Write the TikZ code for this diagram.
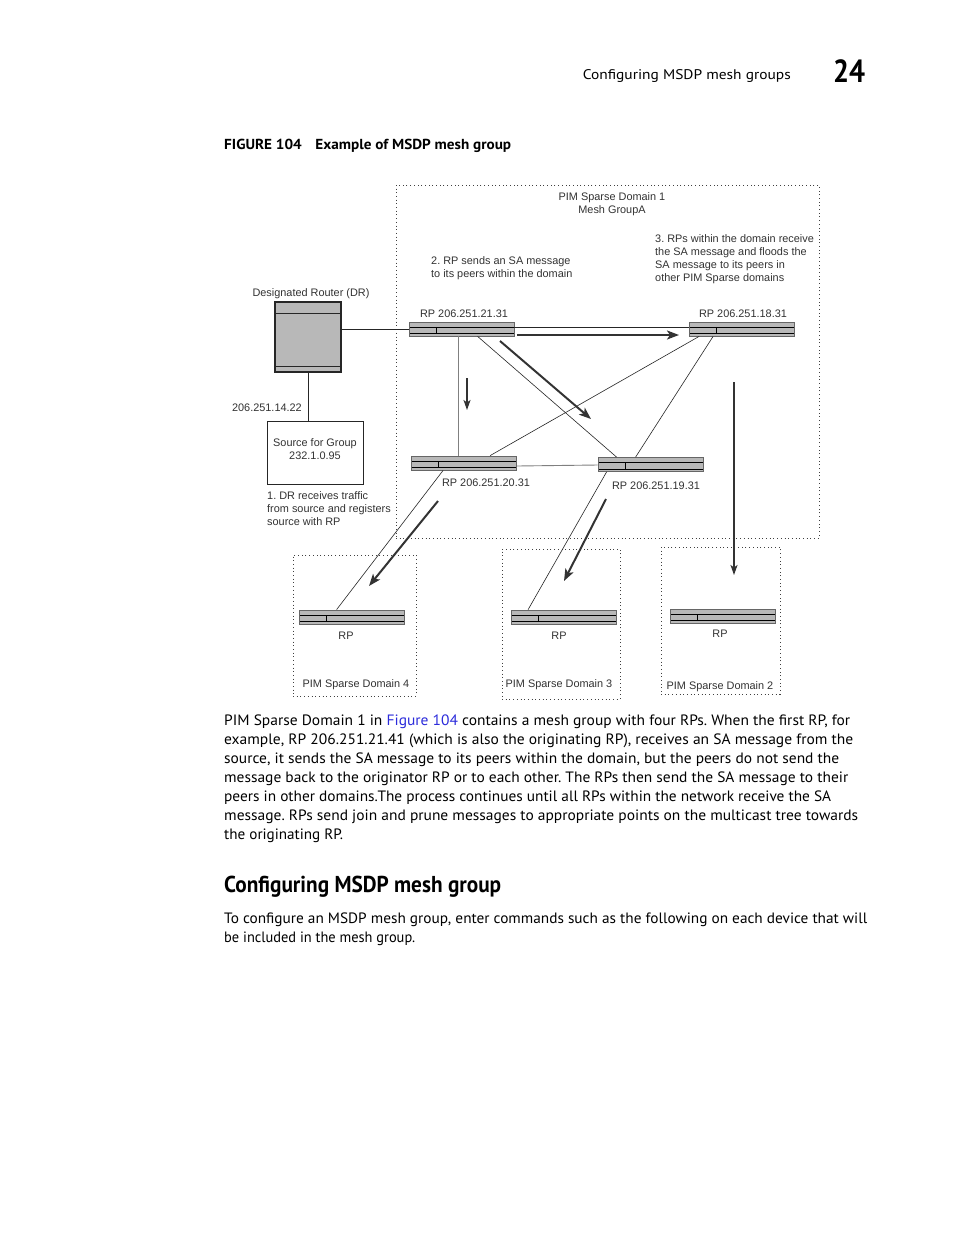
\documentclass[tikz,border=0pt]{standalone}
\usepackage{fontspec}
\setmainfont{Liberation Sans}
\newfontfamily\bodyfont{PT Sans}
\usepackage{graphicx}
\usetikzlibrary{calc,arrows.meta}
\definecolor{rgray}{HTML}{B8B8B8}
\definecolor{dtext}{HTML}{333333}
\definecolor{lnk}{HTML}{2B2BDB}
\newcommand{\fitw}[2]{\resizebox{#1}{\height}{#2}}
\frenchspacing
\tikzset{
  lbl/.style={font=\frenchspacing\fontsize{10.9}{13}\selectfont, text=dtext, inner sep=0, yshift=-1.5pt},
  bodyline/.style={anchor=base west, inner sep=0, font=\frenchspacing\bodyfont\fontsize{15}{19}\selectfont, text=black},
  dombox/.style={draw=black!75, dash pattern=on 0.9pt off 2.8pt, line width=0.7pt, inner sep=0},
  router/.style={draw=black!60, fill=rgray, line width=0.8pt, minimum width=105pt, minimum height=14pt, inner sep=0,
    path picture={\draw[black, line width=1pt]
      ([yshift=-5pt]path picture bounding box.north west) -- ([yshift=-5pt]path picture bounding box.north east)
      ([yshift=2.2pt]path picture bounding box.south west) -- ([yshift=2.2pt]path picture bounding box.south east)
      ([xshift=27pt,yshift=-5pt]path picture bounding box.north west) -- ([xshift=27pt,yshift=2.2pt]path picture bounding box.south west);}},
  drbox/.style={draw=black!85, fill=rgray, line width=1.2pt, minimum width=66pt, minimum height=70pt, inner sep=0,
    path picture={\draw[black!85, line width=1pt]
      ([yshift=-11pt]path picture bounding box.north west) -- ([yshift=-11pt]path picture bounding box.north east)
      ([yshift=5.5pt]path picture bounding box.south west) -- ([yshift=5.5pt]path picture bounding box.south east);}},
  srcbox/.style={draw=black!85, line width=0.9pt, minimum width=96pt, minimum height=63pt, inner sep=0},
  link/.style={draw=black!85, line width=0.6pt},
  glink/.style={draw=black!50, line width=0.9pt},
  flow/.style={draw=black!80, line width=2pt, -{Stealth[length=12pt,width=9pt,inset=3pt]}},
  sflow/.style={draw=black!80, line width=1.5pt, -{Stealth[length=10pt,width=7pt,inset=2.5pt]}},
}
\begin{document}
\begin{tikzpicture}[x=1pt,y=-1pt]
\useasboundingbox (0,0) rectangle (954,1235);
\fill[white] (0,0) rectangle (954,1235);

% page header
\node[anchor=base east, inner sep=0, font=\bodyfont\fontsize{14}{16}\selectfont] (hdr) at (791,79) {\fitw{208pt}{Configuring MSDP mesh groups}};
\node[anchor=base west, inner sep=0, font=\bodyfont\bfseries\fontsize{32}{34}\selectfont] (chap) at (833,82) {\fitw{32pt}{24}};
\node[anchor=base west, inner sep=0, font=\bodyfont\bfseries\fontsize{14.5}{17}\selectfont] (cap) at (224,149) {\fitw{287pt}{FIGURE 104\hspace{0.9em}Example of MSDP mesh group}};

% domain boxes
\node[dombox, minimum width=423pt, minimum height=353pt] (d1) at (607.5,361.5) {};
\node[dombox, minimum width=123pt, minimum height=141pt] (d4) at (354.5,625.5) {};
\node[dombox, minimum width=118pt, minimum height=150pt] (d3) at (561,624) {};
\node[dombox, minimum width=119pt, minimum height=147pt] (d2) at (720.5,620.5) {};

% devices
\node[drbox] (dr) at (308,337) {};
\node[srcbox] (src) at (315,452.5) {};
\node[router] (rp21) at (461.5,329) {};
\node[router] (rp18) at (742,329) {};
\node[router] (rp20) at (464,463) {};
\node[router] (rp19) at (650.5,464.5) {};
\node[router] (rp4) at (351.5,617) {};
\node[router] (rp3) at (563.5,617) {};
\node[router] (rp2) at (722.5,616) {};

% connectors
\draw[link] (dr.east |- rp21.west) -- (rp21.west);
\draw[link] (dr.south) -- (dr.south |- src.north);
\draw[link] ($(rp21.east)+(0,-2)$) -- ($(rp18.west)+(0,-2)$);
\draw[glink] ($(rp21.south west)+(50,0)$) -- ($(rp20.north west)+(47.5,0)$);
\draw[link] ($(rp21.south west)+(69,0)$) -- ($(rp19.north west)+(19,0)$);
\draw[link] ($(rp18.south west)+(10,0)$) -- ($(rp20.north west)+(79,0)$);
\draw[link] ($(rp18.south west)+(24,0)$) -- ($(rp19.north west)+(38,0)$);
\draw[link, line width=0.8pt] ($(rp18.south west)+(30.5,0)$) -- ($(rp18.south west)+(30.5,0)$ |- rp2.north);
\draw[glink] ($(rp20.east)+(0,3)$) -- ($(rp19.west)+(0,0.5)$);
\draw[link] ($(rp20.south west)+(32,0)$) -- ($(rp4.north west)+(38,0)$);
\draw[link] ($(rp19.south west)+(9,0)$) -- ($(rp3.north west)+(17.5,0)$);

% message flow arrows
\coordinate (f1s) at (517,335); \coordinate (f1e) at (679,335);
\coordinate (f2s) at (500,341); \coordinate (f2e) at (591,419);
\coordinate (f3s) at (467,378); \coordinate (f3e) at (467,410);
\coordinate (f4s) at (734,382); \coordinate (f4e) at (734,575);
\coordinate (f5s) at (438,501); \coordinate (f5e) at (369,586);
\coordinate (f6s) at (606,499); \coordinate (f6e) at (564,581);
\draw[flow] (f1s) -- (f1e);
\draw[flow] (f2s) -- (f2e);
\draw[sflow] (f3s) -- (f3e);
\draw[sflow] (f4s) -- (f4e);
\draw[flow] (f5s) -- (f5e);
\draw[flow] (f6s) -- (f6e);

% labels
\node[lbl, align=center] (t1) at (612,202.5) {PIM Sparse Domain 1\\Mesh GroupA};
\node[lbl, align=left, anchor=west] (t2) at (431,266.5) {2. RP sends an SA message\\to its peers within the domain};
\node[lbl, align=left, anchor=west] (t3) at (655,257.5) {3. RPs within the domain receive\\the SA message and floods the\\SA message to its peers in\\other PIM Sparse domains};
\node[lbl] (tdr) at (311,292) {Designated Router (DR)};
\node[lbl, anchor=east] (tip) at (302,406) {206.251.14.22};
\node[lbl, align=center] (tsrc) at ($(src.center)+(0,-4.5)$) {Source for Group\\232.1.0.95};
\node[lbl, align=left, anchor=west] (t1dr) at (267,507) {1. DR receives traffic\\from source and registers\\source with RP};
\node[lbl] (l21) at (464,312) {RP 206.251.21.31};
\node[lbl] (l18) at (743,312) {RP 206.251.18.31};
\node[lbl] (l20) at (486,481) {RP 206.251.20.31};
\node[lbl] (l19) at (656,484) {RP 206.251.19.31};
\node[lbl] (l4) at (346,634) {RP};
\node[lbl] (l3) at (559,634) {RP};
\node[lbl] (l2) at (720,632) {RP};
\node[lbl] (ld4) at (356,683) {PIM Sparse Domain 4};
\node[lbl] (ld3) at (559,683) {PIM Sparse Domain 3};
\node[lbl] (ld2) at (720,685) {PIM Sparse Domain 2};

% body text
\node[bodyline] (b1) at (224,725) {\fitw{626pt}{PIM Sparse Domain 1 in \textcolor{lnk}{Figure 104} contains a mesh group with four RPs. When the first RP, for}};
\node[bodyline] (b2) at (224,744) {\fitw{629pt}{example, RP 206.251.21.41 (which is also the originating RP), receives an SA message from the}};
\node[bodyline] (b3) at (224,763) {\fitw{615pt}{source, it sends the SA message to its peers within the domain, but the peers do not send the}};
\node[bodyline] (b4) at (224,782) {\fitw{624pt}{message back to the originator RP or to each other. The RPs then send the SA message to their}};
\node[bodyline] (b5) at (224,801) {\fitw{607pt}{peers in other domains.The process continues until all RPs within the network receive the SA}};
\node[bodyline] (b6) at (224,820) {\fitw{634pt}{message. RPs send join and prune messages to appropriate points on the multicast tree towards}};
\node[bodyline] (b7) at (224,839) {\fitw{119pt}{the originating RP.}};
\node[anchor=base west, inner sep=0, font=\bodyfont\bfseries\fontsize{23}{26}\selectfont] (hd) at (224,892) {\fitw{277pt}{Configuring MSDP mesh group}};
\node[bodyline] (c1) at (224,923) {\fitw{643pt}{To configure an MSDP mesh group, enter commands such as the following on each device that will}};
\node[bodyline] (c2) at (224,942) {\fitw{191pt}{be included in the mesh group.}};
\end{tikzpicture}
\end{document}
